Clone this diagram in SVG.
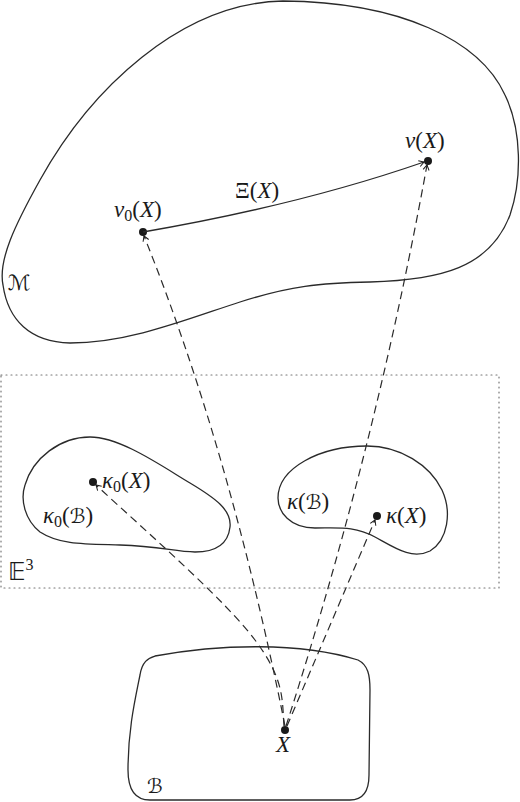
<svg xmlns="http://www.w3.org/2000/svg" width="520" height="802" viewBox="0 0 520 802">
<style>
.out{fill:none;stroke:#2a2a2a;stroke-width:1.3}
.dash{fill:none;stroke:#2a2a2a;stroke-width:1.2;stroke-dasharray:8 5}
.box{fill:none;stroke:#777;stroke-width:1.2;stroke-dasharray:1 4;stroke-linecap:round}
.dot{fill:#1a1a1a}
text{font-family:"Liberation Serif","DejaVu Serif",serif;fill:#1a1a1a;font-size:23px}
.it{font-style:italic}
.sub{font-size:16px}
.scr{font-family:"DejaVu Serif","DejaVu Sans",serif;font-style:italic}
</style>
<defs>
<marker id="ah" viewBox="-6 -4 7 8" markerWidth="7" markerHeight="8" refX="0" refY="0" orient="auto" markerUnits="userSpaceOnUse">
<path d="M-5,-3 L0,0 L-5,3" fill="none" stroke="#1a1a1a" stroke-width="1"/>
</marker>
</defs>
<g id="E3">
<rect class="box" x="1" y="375" width="498" height="213"/>
<text x="8" y="580" style="font-family:'DejaVu Sans',sans-serif;font-size:24px">𝔼<tspan dy="-10" style="font-family:'Liberation Serif',serif;font-size:16px">3</tspan></text>
</g>
<g id="M">
<path class="out" d="M283,1 C180,3 90,90 40,180 C15,225 -2,260 3,285 C8,320 30,342 70,343 C130,343 190,318 240,302 C290,286 320,283 370,282 C440,280 490,268 510,215 C522,180 522,130 505,95 C480,40 400,2 283,1 Z"/>
<text class="scr" x="8" y="290" style="font-size:21px">ℳ</text>
</g>
<g id="nu0">
<circle class="dot" cx="143" cy="232" r="4"/>
<text x="114" y="217"><tspan class="it">ν</tspan><tspan class="sub" dy="4">0</tspan><tspan dy="-4">(</tspan><tspan class="it">X</tspan>)</text>
</g>
<g id="nu">
<circle class="dot" cx="428" cy="161" r="4"/>
<text x="405" y="148"><tspan class="it">ν</tspan>(<tspan class="it">X</tspan>)</text>
</g>
<g id="kappa0B">
<path class="out" d="M90,437 C120,437 160,465 190,483 C215,498 232,510 230,527 C228,545 215,552 195,552 C175,552 160,546 120,545 C85,544 60,545 40,532 C25,520 20,500 25,485 C33,458 60,437 90,437 Z"/>
<text x="43" y="523"><tspan class="it">κ</tspan><tspan class="sub" dy="4">0</tspan><tspan dy="-4">(</tspan><tspan class="scr" style="font-size:20px">ℬ</tspan>)</text>
</g>
<g id="kappa0X">
<circle class="dot" cx="93" cy="482" r="4"/>
<text x="102" y="488"><tspan class="it">κ</tspan><tspan class="sub" dy="4">0</tspan><tspan dy="-4">(</tspan><tspan class="it">X</tspan>)</text>
</g>
<g id="kappaB">
<path class="out" d="M367,446 C400,446 430,465 442,490 C452,512 448,540 430,551 C412,560 395,548 375,537 C355,526 340,528 315,528 C290,528 278,512 278,498 C278,468 320,446 367,446 Z"/>
<text x="287" y="509"><tspan class="it">κ</tspan>(<tspan class="scr" style="font-size:20px">ℬ</tspan>)</text>
</g>
<g id="kappaX">
<circle class="dot" cx="377" cy="516" r="4"/>
<text x="386" y="523"><tspan class="it">κ</tspan>(<tspan class="it">X</tspan>)</text>
</g>
<g id="B">
<path class="out" d="M155,656 C220,644 300,642 358,660 C368,665 370,675 370,690 L369,775 C369,792 362,800 350,800 L150,800 C135,800 128,790 128,770 C128,730 135,700 140,675 C142,662 148,658 155,656 Z"/>
<text class="scr" x="147" y="793" style="font-size:20px">ℬ</text>
</g>
<g id="X">
<circle class="dot" cx="285" cy="730" r="4"/>
<text class="it" x="276" y="752">X</text>
</g>
<g id="connectors">
<path class="out" d="M143,232 Q300,205 424,162" marker-end="url(#ah)"/>
<text x="235" y="198">Ξ(<tspan class="it">X</tspan>)</text>
<path class="dash" d="M285,726 Q230,450 144,236" marker-end="url(#ah)"/>
<path class="dash" d="M286,726 Q375,450 427,165" marker-end="url(#ah)"/>
<path class="dash" d="M284,726 C282,700 285,680 255,640 C225,600 150,535 96,485" marker-end="url(#ah)"/>
<path class="dash" d="M287,726 L375,520" marker-end="url(#ah)"/>
</g>
</svg>
